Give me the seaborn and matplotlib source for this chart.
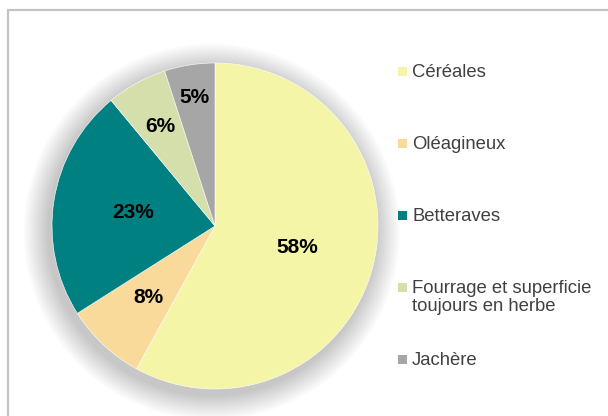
import matplotlib.pyplot as plt
import numpy as np
import seaborn as sb
from matplotlib.patches import Rectangle, Circle

# Répartition des surfaces (%)
CATEGORIES = [
    "Céréales",
    "Oléagineux",
    "Betteraves",
    "Fourrage et superficie\ntoujours en herbe",
    "Jachère",
]
VALEURS = [58, 8, 23, 6, 5]
COULEURS = ["#F4F5A6", "#FADA9A", "#008080", "#D5DFAC", "#A6A6A6"]

# distance radiale des étiquettes (placement façon Excel)
DIST_LABELS = [0.52, 0.60, 0.51, 0.70, 0.80]
# position verticale des entrées de légende (fraction de la figure)
LEGENDE_Y = [0.827, 0.654, 0.481, 0.308, 0.135]


def main():
    sb.set_theme(style="white")
    plt.rcParams["font.family"] = ["Liberation Sans", "DejaVu Sans"]

    fig = plt.figure(figsize=(6.08, 4.16), dpi=100)
    fig.patch.set_facecolor("white")

    # cadre gris du graphique
    fig.add_artist(Rectangle((8 / 608, -0.2), 1.2, 1.2 - 10 / 416,
                             transform=fig.transFigure, fill=False,
                             edgecolor="#C4C4C4", linewidth=1.6))

    ax = fig.add_axes([52 / 608, 27 / 416, 326 / 608, 326 / 416])

    # ombre diffuse autour du camembert
    for i in range(14):
        r = 1.0 + 0.011 * (i + 1)
        ax.add_patch(Circle((-0.02, -0.035), r, color="#000000",
                            alpha=0.016, lw=0, zorder=0, clip_on=False))

    wedges, _ = ax.pie(
        VALEURS,
        colors=COULEURS,
        startangle=90,
        counterclock=False,
        wedgeprops={"edgecolor": "white", "linewidth": 0.4},
    )
    for w in wedges:
        w.set_zorder(2)

    for w, val, d in zip(wedges, VALEURS, DIST_LABELS):
        ang = np.deg2rad((w.theta1 + w.theta2) / 2)
        ax.text(d * np.cos(ang), d * np.sin(ang), f"{val}%",
                ha="center", va="center", fontsize=15, fontweight="bold",
                color="black", zorder=3)

    ax.set_xlim(-1, 1)
    ax.set_ylim(-1, 1)
    ax.set_aspect("equal")
    ax.axis("off")

    # légende manuelle
    for cat, couleur, y in zip(CATEGORIES, COULEURS, LEGENDE_Y):
        fig.add_artist(Rectangle((398 / 608, y - 4.5 / 416), 9 / 608, 9 / 416,
                                 transform=fig.transFigure,
                                 facecolor=couleur, edgecolor="none"))
        fig.text(412 / 608, y + 8 / 416, cat, ha="left", va="top",
                 fontsize=13.3, color="#404040", linespacing=1.1)

    fig.savefig("out.png", dpi=100)
    plt.close(fig)


if __name__ == "__main__":
    main()
